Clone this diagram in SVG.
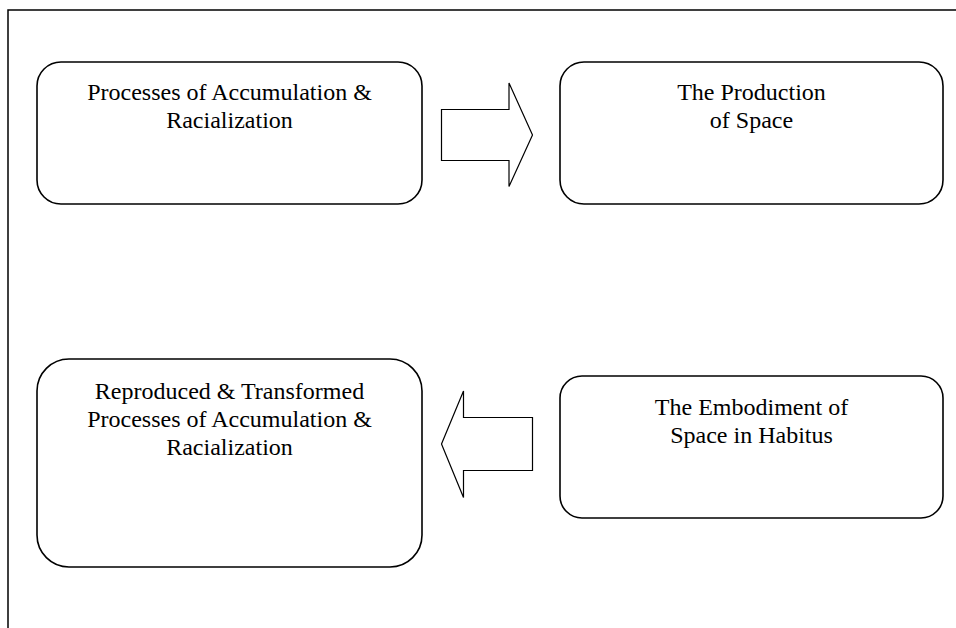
<svg xmlns="http://www.w3.org/2000/svg" width="956" height="628" viewBox="0 0 956 628">
<style>
.box{fill:#fff;stroke:#000;stroke-width:1.6}
.arr{fill:#fff;stroke:#000;stroke-width:1.2;stroke-linejoin:miter}
.t{font-family:"Liberation Serif","Times New Roman",serif;font-size:24px;fill:#000;text-anchor:middle}
</style>
<rect width="956" height="628" fill="#fff"/>
<g id="frame"><path d="M8 628 V10 H956" fill="none" stroke="#000" stroke-width="1.5"/></g>
<g id="n1"><rect class="box" x="37" y="62" width="385" height="142" rx="24"/>
<text class="t" x="229.5" y="100">Processes of Accumulation &amp;</text>
<text class="t" x="229.5" y="128">Racialization</text></g>
<g id="n2"><rect class="box" x="560" y="62" width="383" height="142" rx="24"/>
<text class="t" x="751.5" y="100">The Production</text>
<text class="t" x="751.5" y="128">of Space</text></g>
<g id="n3"><rect class="box" x="37" y="359" width="385" height="208" rx="32"/>
<text class="t" x="229.5" y="399">Reproduced &amp; Transformed</text>
<text class="t" x="229.5" y="427">Processes of Accumulation &amp;</text>
<text class="t" x="229.5" y="455">Racialization</text></g>
<g id="n4"><rect class="box" x="560" y="376" width="383" height="142" rx="22"/>
<text class="t" x="751.5" y="415">The Embodiment of</text>
<text class="t" x="751.5" y="443">Space in Habitus</text></g>
<g id="connectors">
<polygon class="arr" points="441.5,109.5 509,109.5 509,83 532.5,135 509,186.5 509,160.5 441.5,160.5"/>
<polygon class="arr" points="532.5,417.5 463.5,417.5 463.5,391 441.5,444 463.5,497.5 463.5,470.5 532.5,470.5"/>
</g>
</svg>
